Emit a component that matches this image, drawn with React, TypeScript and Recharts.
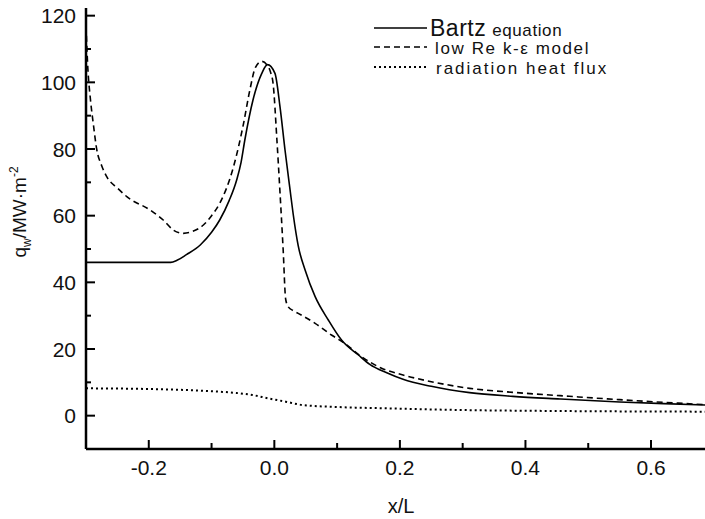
import { LineChart, Line, XAxis, YAxis, Customized } from "recharts";

// Bartz equation (solid)
const bartzX = [-0.3, -0.2, -0.165, -0.155, -0.14, -0.118, -0.1, -0.087, -0.072, -0.06, -0.053, -0.047, -0.034, -0.02, -0.011, 0.001, 0.009, 0.017, 0.025, 0.03, 0.038, 0.049, 0.065, 0.086, 0.107, 0.134, 0.152, 0.18, 0.205, 0.25, 0.311, 0.38, 0.455, 0.55, 0.62, 0.686];
const bartzQ = [46, 46, 46, 46.6, 48.3, 51.2, 55, 58.7, 64.5, 70.7, 76, 82.7, 94.7, 102.7, 105.3, 102.7, 92.7, 79.7, 67.8, 60.5, 51, 43.7, 35.7, 28.7, 22.7, 18.2, 15.4, 12.8, 10.9, 8.8, 6.9, 5.8, 5.0, 4.1, 3.6, 3.2];

// low Re k-epsilon model (dashed)
const lowReX = [-0.3, -0.297, -0.293, -0.288, -0.283, -0.275, -0.267, -0.25, -0.235, -0.198, -0.177, -0.161, -0.145, -0.13, -0.113, -0.1, -0.087, -0.065, -0.049, -0.039, -0.03, -0.02, -0.012, -0.006, -0.002, 0.004, 0.009, 0.014, 0.018, 0.022, 0.03, 0.038, 0.065, 0.091, 0.112, 0.139, 0.17, 0.205, 0.25, 0.311, 0.38, 0.455, 0.55, 0.62, 0.686];
const lowReQ = [117, 104, 95, 87, 80, 75, 71.7, 68.3, 65.7, 61.7, 58.7, 55.7, 54.7, 55.3, 57.2, 60, 63.7, 74.7, 87.7, 97.7, 104.5, 106.3, 105.3, 103, 99.7, 83, 67, 50, 35, 32.7, 31.5, 30.7, 27.7, 24.2, 21.7, 17.7, 14.3, 12.2, 10.2, 8.2, 7.0, 6.0, 4.8, 4.0, 3.3];

// radiation heat flux (dotted)
const radX = [-0.3, -0.2, -0.141, -0.088, -0.06, -0.035, -0.01, 0.018, 0.045, 0.1, 0.178, 0.296, 0.45, 0.686];
const radQ = [8.2, 8.0, 7.7, 7.2, 6.8, 6.2, 5.2, 4.2, 3.2, 2.6, 2.2, 1.7, 1.4, 1.2];

const xTicks = [-0.2, -0.1, 0, 0.1, 0.2, 0.3, 0.4, 0.5, 0.6];
const xMajor = [-0.2, 0, 0.2, 0.4, 0.6];
const yTicks = [0, 10, 20, 30, 40, 50, 60, 70, 80, 90, 100, 110, 120];
const yMajor = [0, 20, 40, 60, 80, 100, 120];

const toRows = (xs: number[], qs: number[]) => xs.map((x, i) => ({ x, q: qs[i] }));
const bartzData = toRows(bartzX, bartzQ);
const lowReData = toRows(lowReX, lowReQ);
const radData = toRows(radX, radQ);

const FONT = "'Liberation Sans', Arial, sans-serif";

function XTick({ x, y, payload }: any) {
  const major = xMajor.includes(payload.value);
  return (
    <g>
      <line x1={x} x2={x} y1={y} y2={y - (major ? 9 : 6)} stroke="#000" strokeWidth={2} />
      {major && (
        <text x={x} y={y + 26} textAnchor="middle" fontSize={21} fontFamily={FONT} fill="#111">
          {payload.value.toFixed(1)}
        </text>
      )}
    </g>
  );
}

function YTick({ x, y, payload }: any) {
  const major = yMajor.includes(payload.value);
  return (
    <g>
      <line x1={x} x2={x + (major ? 9 : 5)} y1={y} y2={y} stroke="#000" strokeWidth={2} />
      {major && (
        <text x={x - 10} y={y + 7.5} textAnchor="end" fontSize={21} fontFamily={FONT} fill="#111">
          {payload.value}
        </text>
      )}
    </g>
  );
}

function Decor() {
  const rows = [
    { y: 28, dash: undefined, w: 1.6 },
    { y: 47, dash: "6 4", w: 1.6 },
    { y: 67, dash: "2 3", w: 2 },
  ];
  return (
    <g fontFamily={FONT} fill="#111">
      {rows.map((r, i) => (
        <line key={i} x1={374} x2={427} y1={r.y} y2={r.y} stroke="#000" strokeWidth={r.w} strokeDasharray={r.dash} />
      ))}
      <text x={430} y={36} fontSize={23} letterSpacing={0.5}>
        Bartz<tspan fontSize={17} dx={6} letterSpacing={0.6}>equation</tspan>
      </text>
      <text x={435} y={54} fontSize={17} letterSpacing={1.6}>
        low Re k-ε  model
      </text>
      <text x={436} y={74} fontSize={17} letterSpacing={2}>
        radiation heat flux
      </text>
      <text x={401} y={513} textAnchor="middle" fontSize={20}>x/L</text>
      <text transform="translate(26,212) rotate(-90)" textAnchor="middle" fontSize={19}>
        q<tspan fontSize={12} dy={5}>w</tspan>
        <tspan dy={-5}>/MW·m</tspan>
        <tspan fontSize={12} dy={-8}>-2</tspan>
      </text>
    </g>
  );
}

export default function App() {
  return (
    <div style={{ position: "absolute", left: 0, top: 0, background: "#fff" }}>
      <LineChart width={705} height={519} margin={{ top: 8, right: 0, left: 0, bottom: 0 }}>
        <XAxis
          dataKey="x"
          type="number"
          domain={[-0.3, 0.686]}
          allowDataOverflow
          ticks={xTicks}
          interval={0}
          height={70}
          tickSize={0}
          tickMargin={0}
          tickLine={false}
          tick={<XTick />}
          axisLine={{ stroke: "#000", strokeWidth: 2.5 }}
        />
        <XAxis
          xAxisId="top"
          orientation="top"
          type="number"
          domain={[-0.3, 0.686]}
          height={0}
          tick={false}
          tickLine={false}
          axisLine={{ stroke: "#000", strokeWidth: 3 }}
        />
        <YAxis
          type="number"
          domain={[-10, 122.3]}
          allowDataOverflow
          ticks={yTicks}
          interval={0}
          width={86}
          tickSize={0}
          tickMargin={0}
          tickLine={false}
          tick={<YTick />}
          axisLine={{ stroke: "#000", strokeWidth: 2.5 }}
        />
        <Line data={bartzData} dataKey="q" type="monotone" stroke="#000" strokeWidth={1.6} dot={false} isAnimationActive={false} />
        <Line data={lowReData} dataKey="q" type="monotone" stroke="#000" strokeWidth={1.6} strokeDasharray="6 4" dot={false} isAnimationActive={false} />
        <Line data={radData} dataKey="q" type="monotone" stroke="#000" strokeWidth={2} strokeDasharray="2 3" dot={false} isAnimationActive={false} />
        <Customized component={Decor} />
      </LineChart>
    </div>
  );
}
